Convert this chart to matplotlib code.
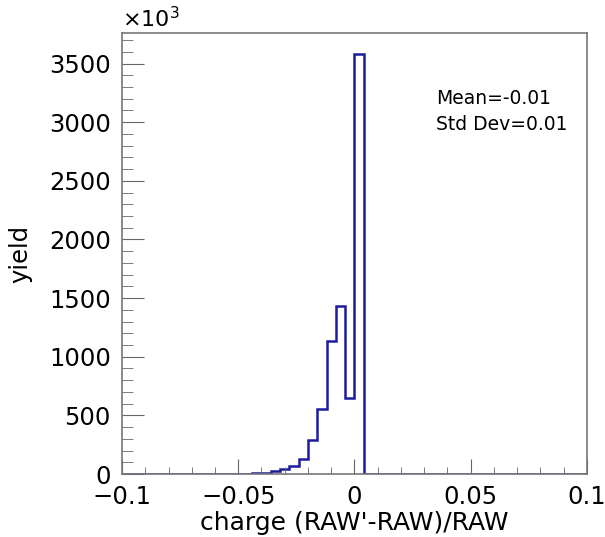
#!/usr/bin/env python3
"""Charge residual histogram, ROOT-style, redrawn with matplotlib."""

import numpy as np
import matplotlib

matplotlib.use("Agg")
import matplotlib.pyplot as plt
from matplotlib.ticker import MultipleLocator

plt.rcParams["font.family"] = ["DejaVu Sans"]

# 50 bins of width 0.004 spanning -0.1 .. 0.1 (values in units of 10^3)
bin_edges = np.linspace(-0.1, 0.1, 51)
bin_counts = [0, 0, 0, 0, 0, 0, 0, 0, 0, 0,
              0.5, 1, 2, 3, 6, 12, 23, 40, 71, 128,
              292, 556, 1133, 1431, 645, 3580, 0, 0, 0, 0,
              0, 0, 0, 0, 0, 0, 0, 0, 0, 0,
              0, 0, 0, 0, 0, 0, 0, 0, 0, 0]
x_ticks = [-0.1, -0.05, 0, 0.05, 0.1]
x_tick_labels = ["\u22120.1", "\u22120.05", "0", "0.05", "0.1"]
stats_text = "Mean=-0.01\nStd Dev=0.01"

fig = plt.figure(figsize=(6.05, 5.37), dpi=100)
ax = fig.add_axes([0.2017, 0.1173, 0.7683, 0.8212])

ax.stairs(bin_counts, bin_edges, color="#1c1c9c", linewidth=1.8)

ax.set_xlim(-0.1, 0.1)
ax.set_ylim(0, 3760)

ax.set_xticks(x_ticks)
ax.set_xticklabels(x_tick_labels)
ax.xaxis.set_minor_locator(MultipleLocator(0.01))
ax.yaxis.set_major_locator(MultipleLocator(500))
ax.yaxis.set_minor_locator(MultipleLocator(100))

ax.tick_params(axis="both", which="both", direction="in", colors="#666666",
               labelcolor="black", labelsize=17.5)
ax.tick_params(axis="x", which="major", length=11, pad=8)
ax.tick_params(axis="x", which="minor", length=5)
ax.tick_params(axis="y", which="major", length=16, pad=8)
ax.tick_params(axis="y", which="minor", length=8)
for side in ax.spines.values():
    side.set_color("#777777")
    side.set_linewidth(1.2)

ax.set_xlabel("charge (RAW'-RAW)/RAW", fontsize=18, labelpad=1)
ax.set_ylabel("yield", fontsize=17.5, labelpad=12)

ax.text(0.0, 1.005, r"$\times10^{3}$", transform=ax.transAxes,
        fontsize=16, ha="left", va="bottom")
ax.text(0.675, 0.872, stats_text, transform=ax.transAxes,
        fontsize=13.5, ha="left", va="top", linespacing=1.45)

fig.savefig("out.png", dpi=100)
